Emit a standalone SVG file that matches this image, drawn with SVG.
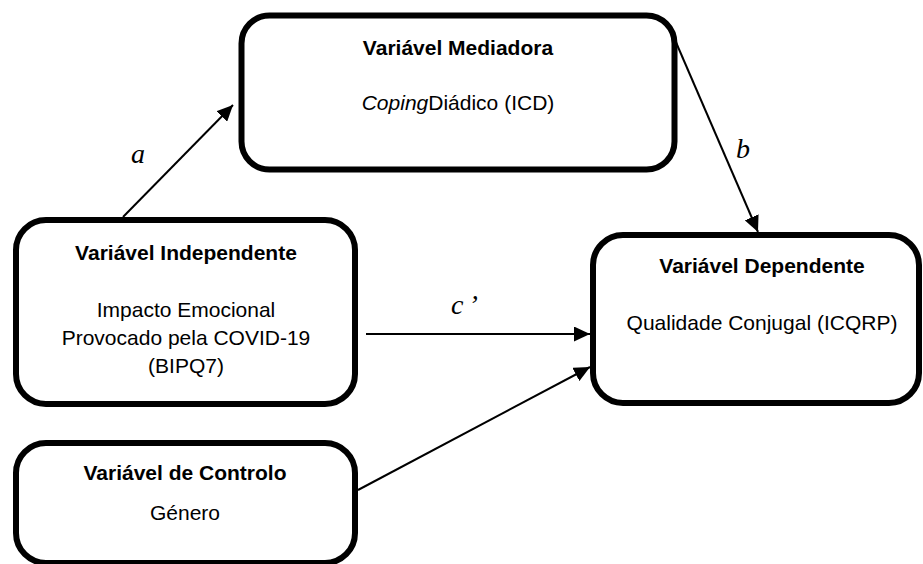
<svg xmlns="http://www.w3.org/2000/svg" width="923" height="564" viewBox="0 0 923 564">
<style>
.box{fill:#fff;stroke:#000;stroke-width:6}
.t{font-family:"Liberation Sans",Arial,sans-serif;font-size:21px;fill:#000;text-anchor:middle}
.b{font-weight:bold}
.lbl{font-family:"Liberation Serif","Times New Roman",serif;font-style:italic;font-size:28px;fill:#000}
.edge{stroke:#000;stroke-width:2;fill:none;marker-end:url(#ah)}
</style>
<defs>
<marker id="ah" markerUnits="userSpaceOnUse" markerWidth="17" markerHeight="15" refX="16" refY="7.5" orient="auto">
<path d="M0,0 L16,7.5 L0,15 z" fill="#000"/>
</marker>
</defs>
<rect width="923" height="564" fill="#fff"/>
<g id="edges">
<line class="edge" x1="123" y1="217" x2="233" y2="105"/>
<line class="edge" x1="675" y1="40" x2="758" y2="232"/>
<line class="edge" x1="366" y1="334" x2="590" y2="334"/>
<line class="edge" x1="358" y1="490" x2="590" y2="367"/>
<text class="lbl" x="138" y="163" text-anchor="middle">a</text>
<text class="lbl" x="743" y="158" text-anchor="middle">b</text>
<text class="lbl" x="451" y="314">c<tspan dx="5">’</tspan></text>
</g>
<g id="mediadora">
<rect class="box" x="241.5" y="15.5" width="433" height="154" rx="28"/>
<text class="t b" x="458" y="55">Variável Mediadora</text>
<text class="t" x="458" y="110"><tspan font-style="italic">Coping</tspan>Diádico (ICD)</text>
</g>
<g id="independente">
<rect class="box" x="16" y="220" width="339" height="184" rx="30"/>
<text class="t b" x="186" y="260">Variável Independente</text>
<text class="t" x="186" y="317">Impacto Emocional</text>
<text class="t" x="186" y="345">Provocado pela COVID-19</text>
<text class="t" x="186" y="373">(BIPQ7)</text>
</g>
<g id="dependente">
<rect class="box" x="593" y="235" width="326" height="168" rx="30"/>
<text class="t b" x="762" y="273">Variável Dependente</text>
<text class="t" x="762" y="330">Qualidade Conjugal (ICQRP)</text>
</g>
<g id="controlo">
<rect class="box" x="16" y="443" width="339" height="120" rx="30"/>
<text class="t b" x="185" y="480">Variável de Controlo</text>
<text class="t" x="185" y="520">Género</text>
</g>
</svg>
